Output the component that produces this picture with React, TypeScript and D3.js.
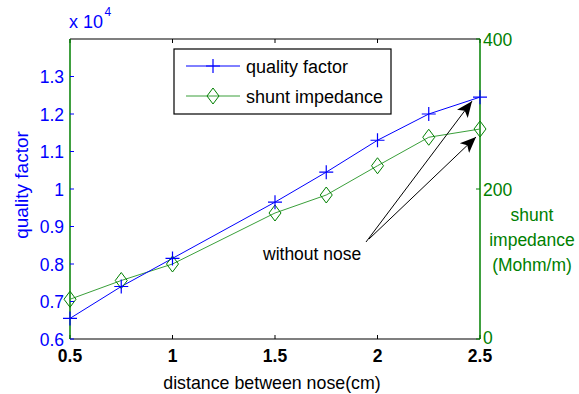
import { useEffect, useRef } from "react";
import * as d3 from "d3";

const distances = [0.5, 0.75, 1, 1.5, 1.75, 2, 2.25, 2.5];
// quality factor, in units of 10^4
const qualityFactor = [0.655, 0.74, 0.815, 0.965, 1.045, 1.13, 1.2, 1.245];
// shunt impedance, Mohm/m
const shuntImpedance = [53, 78, 100, 168, 192, 231, 269, 280];
const xTicks = [0.5, 1, 1.5, 2, 2.5];
const leftTicks = [0.6, 0.7, 0.8, 0.9, 1, 1.1, 1.2, 1.3];
const rightTicks = [0, 200, 400];
const legendLabels = ["quality factor", "shunt impedance"];
const rightLabel = ["shunt", "impedance", "(Mohm/m)"];

const BLUE = "#0000ff";
const GREEN_AXIS = "#008000";
const GREEN_LINE = "#3a9f3a";
const FONT = "Liberation Sans, Arial, sans-serif";

const App = () => {
  const svgRef = useRef<SVGSVGElement | null>(null);

  useEffect(() => {
    if (!svgRef.current) return;
    const width = 579;
    const height = 394;
    const margin = { top: 39, right: 99, bottom: 55, left: 70 };
    const innerW = width - margin.left - margin.right;
    const innerH = height - margin.top - margin.bottom;

    const svg = d3.select(svgRef.current);
    svg.selectAll("*").remove();
    svg.attr("width", width).attr("height", height);
    svg.append("rect").attr("width", width).attr("height", height).attr("fill", "#fff");

    const x = d3.scaleLinear().domain([0.5, 2.5]).range([0, innerW]);
    const yL = d3.scaleLinear().domain([0.6, 1.4]).range([innerH, 0]);
    const yR = d3.scaleLinear().domain([0, 400]).range([innerH, 0]);

    const g = svg.append("g").attr("transform", `translate(${margin.left},${margin.top})`);

    // frame: top and bottom black
    g.append("line").attr("x1", 0).attr("x2", innerW).attr("y1", 0).attr("y2", 0)
      .attr("stroke", "#000").attr("stroke-width", 1.2);
    g.append("line").attr("x1", 0).attr("x2", innerW).attr("y1", innerH).attr("y2", innerH)
      .attr("stroke", "#000").attr("stroke-width", 1.2);

    // x ticks (inside, top and bottom)
    xTicks.forEach((t) => {
      g.append("line").attr("x1", x(t)).attr("x2", x(t)).attr("y1", innerH).attr("y2", innerH - 4)
        .attr("stroke", "#000");
      g.append("line").attr("x1", x(t)).attr("x2", x(t)).attr("y1", 0).attr("y2", 4)
        .attr("stroke", "#000");
      g.append("text").attr("x", x(t)).attr("y", innerH + 23)
        .attr("text-anchor", "middle").attr("font-family", FONT).attr("font-size", 17.5)
        .attr("font-weight", "bold").attr("fill", "#000").text(String(t));
    });

    // left axis
    g.append("line").attr("x1", 0).attr("x2", 0).attr("y1", 0).attr("y2", innerH)
      .attr("stroke", GREEN_AXIS).attr("stroke-width", 1.5);
    leftTicks.forEach((t) => {
      g.append("line").attr("x1", 0).attr("x2", 4).attr("y1", yL(t)).attr("y2", yL(t))
        .attr("stroke", BLUE);
      g.append("text").attr("x", -6).attr("y", yL(t) + 6.5)
        .attr("text-anchor", "end").attr("font-family", FONT).attr("font-size", 17.5)
        .attr("fill", BLUE).text(String(t));
    });
    svg.append("text").attr("x", 69).attr("y", 28).attr("font-family", FONT)
      .attr("font-size", 18).attr("fill", BLUE).text("x 10");
    svg.append("text").attr("x", 104.5).attr("y", 16).attr("font-family", FONT)
      .attr("font-size", 12).attr("fill", BLUE).text("4");
    svg.append("text").attr("transform", `translate(28,185) rotate(-90)`)
      .attr("text-anchor", "middle").attr("font-family", FONT).attr("font-size", 19)
      .attr("fill", BLUE).text("quality factor");

    // right axis
    g.append("line").attr("x1", innerW).attr("x2", innerW).attr("y1", 0).attr("y2", innerH)
      .attr("stroke", GREEN_AXIS).attr("stroke-width", 1.5);
    rightTicks.forEach((t) => {
      g.append("line").attr("x1", innerW).attr("x2", innerW - 4).attr("y1", yR(t)).attr("y2", yR(t))
        .attr("stroke", GREEN_AXIS);
      g.append("text").attr("x", innerW + 3).attr("y", yR(t) + (t === 0 ? 5 : 6.5))
        .attr("font-family", FONT).attr("font-size", 17.5)
        .attr("fill", GREEN_AXIS).text(String(t));
    });
    rightLabel.forEach((s, i) => {
      svg.append("text").attr("x", 532).attr("y", 221 + i * 25)
        .attr("text-anchor", "middle").attr("font-family", FONT).attr("font-size", 17.5)
        .attr("fill", GREEN_AXIS).text(s);
    });

    svg.append("text").attr("x", 272).attr("y", 389)
      .attr("text-anchor", "middle").attr("font-family", FONT).attr("font-size", 17.8)
      .attr("fill", "#000").text("distance between nose(cm)");

    // series
    const qData = distances.map((d, i) => [d, qualityFactor[i]] as [number, number]);
    const sData = distances.map((d, i) => [d, shuntImpedance[i]] as [number, number]);

    g.append("path").datum(sData).attr("fill", "none").attr("stroke", GREEN_LINE).attr("stroke-width", 1)
      .attr("d", d3.line<[number, number]>().x((d) => x(d[0])).y((d) => yR(d[1])));
    g.append("path").datum(qData).attr("fill", "none").attr("stroke", BLUE).attr("stroke-width", 1)
      .attr("d", d3.line<[number, number]>().x((d) => x(d[0])).y((d) => yL(d[1])));

    const diamond = (cx: number, cy: number, r: number) =>
      `M${cx},${cy - r}L${cx + r * 0.75},${cy}L${cx},${cy + r}L${cx - r * 0.75},${cy}Z`;
    const plus = (cx: number, cy: number, r: number) =>
      `M${cx - r},${cy}L${cx + r},${cy}M${cx},${cy - r}L${cx},${cy + r}`;

    sData.forEach((d) => {
      g.append("path").attr("d", diamond(x(d[0]), yR(d[1]), 8))
        .attr("fill", "none").attr("stroke", GREEN_AXIS).attr("stroke-width", 1);
    });
    qData.forEach((d) => {
      g.append("path").attr("d", plus(x(d[0]), yL(d[1]), 7))
        .attr("fill", "none").attr("stroke", BLUE).attr("stroke-width", 1.2);
    });

    // legend
    const lg = svg.append("g").attr("transform", "translate(174,49)");
    lg.append("rect").attr("width", 217).attr("height", 65).attr("fill", "#fff")
      .attr("stroke", "#000").attr("stroke-width", 1.2);
    legendLabels.forEach((label, i) => {
      const yy = 17 + i * 30;
      const color = i === 0 ? BLUE : GREEN_LINE;
      lg.append("line").attr("x1", 12).attr("x2", 66).attr("y1", yy).attr("y2", yy)
        .attr("stroke", color);
      if (i === 0) {
        lg.append("path").attr("d", plus(39, yy, 7)).attr("stroke", BLUE).attr("stroke-width", 1.2);
      } else {
        lg.append("path").attr("d", diamond(39, yy, 8)).attr("fill", "none").attr("stroke", GREEN_AXIS);
      }
      lg.append("text").attr("x", 72).attr("y", yy + 7).attr("font-family", FONT)
        .attr("font-size", 18).attr("fill", "#000").text(label);
    });

    // annotation: "without nose" pointing at the last point of each series
    svg.append("defs").append("marker").attr("id", "ah").attr("viewBox", "0 0 10 10")
      .attr("refX", 10).attr("refY", 5).attr("markerWidth", 16).attr("markerHeight", 16)
      .attr("markerUnits", "userSpaceOnUse").attr("orient", "auto")
      .append("path").attr("d", "M0,0.8L10,5L0,9.2L2.5,5Z").attr("fill", "#000");
    svg.append("text").attr("x", 263).attr("y", 260).attr("font-family", FONT)
      .attr("font-size", 17.5).attr("fill", "#000").text("without nose");
    const lastX = x(distances[distances.length - 1]);
    const lastQ = yL(qualityFactor[qualityFactor.length - 1]);
    const lastS = yR(shuntImpedance[shuntImpedance.length - 1]);
    g.append("line").attr("x1", 366 - margin.left).attr("y1", 242 - margin.top)
      .attr("x2", lastX - 8).attr("y2", lastQ + 4)
      .attr("stroke", "#000").attr("marker-end", "url(#ah)");
    g.append("line").attr("x1", 369 - margin.left).attr("y1", 239 - margin.top)
      .attr("x2", lastX - 4).attr("y2", lastS + 8)
      .attr("stroke", "#000").attr("marker-end", "url(#ah)");
  }, []);

  return <svg ref={svgRef} style={{ position: "absolute", left: 0, top: 0 }} />;
};

export default App;
